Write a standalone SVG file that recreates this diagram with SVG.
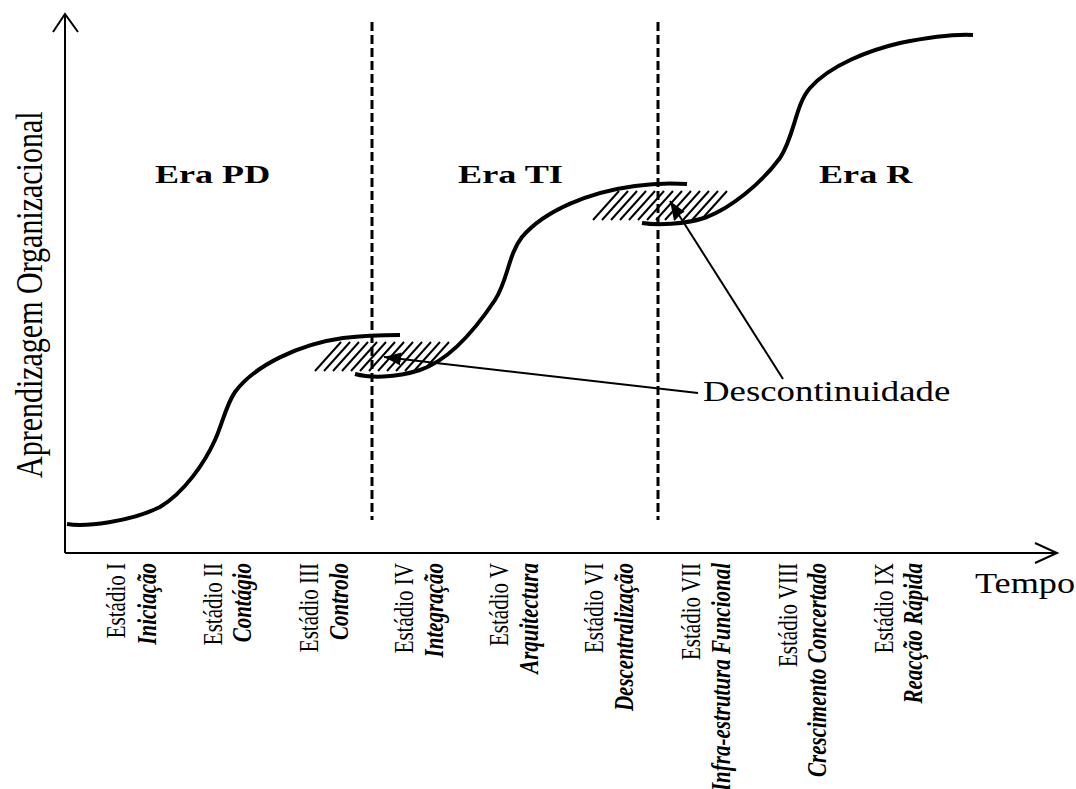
<svg xmlns="http://www.w3.org/2000/svg" width="1076" height="789" viewBox="0 0 1076 789">
  <style>
    .axis { fill: none; stroke: #000; stroke-width: 2; }
    .era-div { fill: none; stroke: #000; stroke-width: 3; stroke-dasharray: 9 4; }
    .curve { fill: none; stroke: #000; stroke-width: 4; stroke-linecap: butt; }
    .hatch line { stroke: #000; stroke-width: 2; }
    .link { fill: none; stroke: #000; stroke-width: 2; }
    .serif { font-family: "Liberation Serif", "Times New Roman", serif; fill: #000; }
    .era { font-size: 26px; font-weight: bold; }
    .big { font-size: 29px; }
    .stage { font-size: 21px; }
    .name { font-size: 21px; font-weight: bold; font-style: italic; }
  </style>
  <defs>
    <marker id="head" markerUnits="userSpaceOnUse" markerWidth="18" markerHeight="14" refX="17" refY="6.5" orient="auto">
      <path d="M0,0 L17,6.5 L0,13 Z" fill="#000"/>
    </marker>
    <!-- hide hatch strokes that fall under the next era's curve -->
    <mask id="m1" maskUnits="userSpaceOnUse" x="0" y="0" width="1076" height="789">
      <rect x="0" y="0" width="1076" height="789" fill="#fff"/>
      <path d="M355,374 C370,378 395,378 420,370 C450,360 475,330 495,300 L495,420 L355,420 Z" fill="#000"/>
    </mask>
    <mask id="m2" maskUnits="userSpaceOnUse" x="0" y="0" width="1076" height="789">
      <rect x="0" y="0" width="1076" height="789" fill="#fff"/>
      <path d="M642,223 C655,225 685,225 707,217 C730,208 760,185 780,158 L780,260 L642,260 Z" fill="#000"/>
    </mask>
  </defs>

  <rect width="1076" height="789" fill="#fff"/>

  <!-- axes -->
  <g id="axes">
    <path class="axis" d="M65,553 L65,14 M53,32 L65,14 L78,32"/>
    <path class="axis" d="M65,553 L1057,553 M1035,543 L1057,553 L1035,563"/>
    <text class="serif" font-size="30" transform="translate(42,478) scale(1.28,1) rotate(-90)">Aprendizagem Organizacional</text>
    <text class="serif big" transform="translate(975,593) scale(1.25,1)" textLength="80" lengthAdjust="spacingAndGlyphs">Tempo</text>
  </g>

  <!-- era boundaries -->
  <g id="boundaries">
    <line class="era-div" x1="372" y1="22" x2="372" y2="520"/>
    <line class="era-div" x1="658" y1="22" x2="658" y2="520"/>
  </g>

  <!-- era titles -->
  <g id="era-pd">
    <text class="serif era" transform="translate(155,183) scale(1.28,1)" textLength="90" lengthAdjust="spacingAndGlyphs">Era PD</text>
  </g>
  <g id="era-ti">
    <text class="serif era" transform="translate(458,183) scale(1.28,1)" textLength="82" lengthAdjust="spacingAndGlyphs">Era TI</text>
  </g>
  <g id="era-r">
    <text class="serif era" transform="translate(819,183) scale(1.28,1)" textLength="73" lengthAdjust="spacingAndGlyphs">Era R</text>
  </g>

  <!-- hatched discontinuity zones -->
  <g id="hatch-1" class="hatch" mask="url(#m1)">
    <line x1="315" y1="371" x2="341" y2="342"/>
    <line x1="324" y1="371" x2="350" y2="342"/>
    <line x1="333" y1="371" x2="359" y2="342"/>
    <line x1="342" y1="371" x2="368" y2="342"/>
    <line x1="351" y1="371" x2="377" y2="342"/>
    <line x1="360" y1="371" x2="386" y2="342"/>
    <line x1="369" y1="371" x2="395" y2="342"/>
    <line x1="378" y1="371" x2="404" y2="342"/>
    <line x1="387" y1="371" x2="413" y2="342"/>
    <line x1="396" y1="371" x2="422" y2="342"/>
    <line x1="405" y1="371" x2="431" y2="342"/>
    <line x1="414" y1="371" x2="440" y2="342"/>
    <line x1="423" y1="371" x2="449" y2="342"/>
  </g>
  <g id="hatch-2" class="hatch" mask="url(#m2)">
    <line x1="593" y1="220" x2="619" y2="191"/>
    <line x1="602" y1="220" x2="628" y2="191"/>
    <line x1="611" y1="220" x2="637" y2="191"/>
    <line x1="620" y1="220" x2="646" y2="191"/>
    <line x1="629" y1="220" x2="655" y2="191"/>
    <line x1="638" y1="220" x2="664" y2="191"/>
    <line x1="647" y1="220" x2="673" y2="191"/>
    <line x1="656" y1="220" x2="682" y2="191"/>
    <line x1="665" y1="220" x2="691" y2="191"/>
    <line x1="674" y1="220" x2="700" y2="191"/>
    <line x1="683" y1="220" x2="709" y2="191"/>
    <line x1="692" y1="220" x2="718" y2="191"/>
    <line x1="701" y1="220" x2="727" y2="191"/>
  </g>

  <!-- learning curves, one per era -->
  <g id="curve-pd">
    <path class="curve" d="M67,524 C85,527 130,522 160,507 C185,492 205,462 215,440 C222,425 226,405 235,392 C255,365 300,344 343,338 C360,336 380,335 400,335"/>
  </g>
  <g id="curve-ti">
    <path class="curve" d="M355,374 C370,378 395,378 420,370 C450,360 475,330 495,300 C508,280 508,255 522,237 C545,210 590,192 635,186 C655,183 672,183 687,184"/>
  </g>
  <g id="curve-r">
    <path class="curve" d="M642,223 C655,225 685,225 707,217 C730,208 760,185 780,158 C795,135 795,105 810,88 C830,65 870,50 900,43 C930,37 955,34 973,35"/>
  </g>

  <!-- pointers from the label to each discontinuity -->
  <g id="connectors">
    <line class="link" x1="698" y1="393" x2="384" y2="357" marker-end="url(#head)"/>
    <line class="link" x1="783" y1="379" x2="670" y2="201" marker-end="url(#head)"/>
  </g>
  <g id="descontinuidade">
    <text class="serif big" transform="translate(703,401) scale(1.27,1)">Descontinuidade</text>
  </g>

  <!-- stages along the time axis -->
  <g id="stage-1">
    <text class="serif stage" text-anchor="end" transform="translate(125,563) scale(1.28,1) rotate(-90)">Estádio I</text>
    <text class="serif name" text-anchor="end" transform="translate(156,563) scale(1.28,1) rotate(-90)">Iniciação</text>
  </g>
  <g id="stage-2">
    <text class="serif stage" text-anchor="end" transform="translate(222,563) scale(1.28,1) rotate(-90)">Estádio II</text>
    <text class="serif name" text-anchor="end" transform="translate(251,563) scale(1.28,1) rotate(-90)">Contágio</text>
  </g>
  <g id="stage-3">
    <text class="serif stage" text-anchor="end" transform="translate(318,563) scale(1.28,1) rotate(-90)">Estádio III</text>
    <text class="serif name" text-anchor="end" transform="translate(348,563) scale(1.28,1) rotate(-90)">Controlo</text>
  </g>
  <g id="stage-4">
    <text class="serif stage" text-anchor="end" transform="translate(413,563) scale(1.28,1) rotate(-90)">Estádio IV</text>
    <text class="serif name" text-anchor="end" transform="translate(443,563) scale(1.28,1) rotate(-90)">Integração</text>
  </g>
  <g id="stage-5">
    <text class="serif stage" text-anchor="end" transform="translate(508,563) scale(1.28,1) rotate(-90)">Estádio V</text>
    <text class="serif name" text-anchor="end" transform="translate(538,563) scale(1.28,1) rotate(-90)">Arquitectura</text>
  </g>
  <g id="stage-6">
    <text class="serif stage" text-anchor="end" transform="translate(603,563) scale(1.28,1) rotate(-90)">Estádio VI</text>
    <text class="serif name" text-anchor="end" transform="translate(633,563) scale(1.28,1) rotate(-90)">Descentralização</text>
  </g>
  <g id="stage-7">
    <text class="serif stage" text-anchor="end" transform="translate(700,563) scale(1.28,1) rotate(-90)">Estádio VII</text>
    <text class="serif name" text-anchor="end" transform="translate(730,563) scale(1.28,1) rotate(-90)">Infra-estrutura Funcional</text>
  </g>
  <g id="stage-8">
    <text class="serif stage" text-anchor="end" transform="translate(797,563) scale(1.28,1) rotate(-90)">Estádio VIII</text>
    <text class="serif name" text-anchor="end" transform="translate(826,563) scale(1.28,1) rotate(-90)">Crescimento Concertado</text>
  </g>
  <g id="stage-9">
    <text class="serif stage" text-anchor="end" transform="translate(893,563) scale(1.28,1) rotate(-90)">Estádio IX</text>
    <text class="serif name" text-anchor="end" transform="translate(922,563) scale(1.28,1) rotate(-90)">Reacção Rápida</text>
  </g>
</svg>
